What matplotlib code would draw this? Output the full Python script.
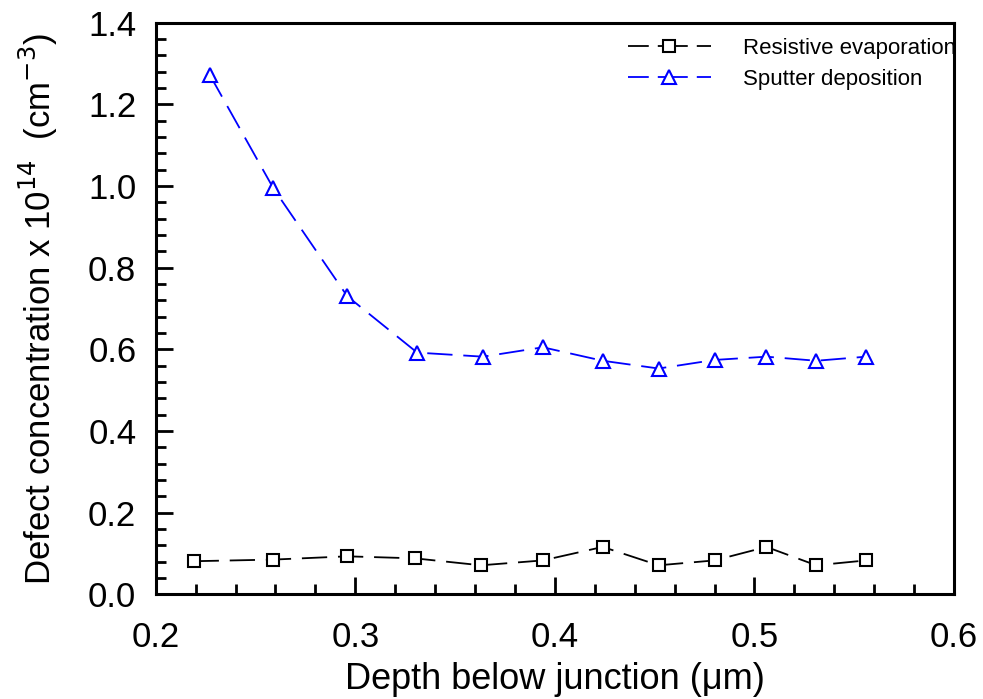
import matplotlib.pyplot as plt
from matplotlib.lines import Line2D
from matplotlib.ticker import MultipleLocator

plt.rcParams['font.family'] = ['Liberation Sans', 'DejaVu Sans']

# Resistive evaporation (squares)
depth_res = [0.219, 0.259, 0.296, 0.330, 0.363, 0.394, 0.424, 0.452, 0.480, 0.506, 0.531, 0.556]
conc_res = [0.081, 0.085, 0.093, 0.088, 0.071, 0.083, 0.116, 0.071, 0.083, 0.116, 0.071, 0.083]

# Sputter deposition (triangles)
depth_sput = [0.227, 0.259, 0.296, 0.331, 0.364, 0.394, 0.424, 0.452, 0.480, 0.506, 0.531, 0.556]
conc_sput = [1.273, 0.994, 0.730, 0.592, 0.582, 0.605, 0.572, 0.553, 0.574, 0.582, 0.572, 0.582]

fig = plt.figure(figsize=(9.83, 6.99), dpi=100)
ax = fig.add_axes([0.1584, 0.1498, 0.8121, 0.8177])

ax.plot(depth_res, conc_res, color='black', lw=1.3, dashes=(14, 6),
        marker='s', ms=9, mfc='white', mec='black', mew=1.5)
ax.plot(depth_sput, conc_sput, color='blue', lw=1.3, dashes=(14, 6),
        marker='^', ms=10, mfc='white', mec='blue', mew=1.5)

ax.set_xlim(0.2, 0.6)
ax.set_ylim(0.0, 1.4)
ax.xaxis.set_major_locator(MultipleLocator(0.1))
ax.xaxis.set_minor_locator(MultipleLocator(0.02))
ax.yaxis.set_major_locator(MultipleLocator(0.2))
ax.yaxis.set_minor_locator(MultipleLocator(0.04))
ax.xaxis.set_major_formatter(plt.FormatStrFormatter('%.1f'))
ax.yaxis.set_major_formatter(plt.FormatStrFormatter('%.1f'))

ax.tick_params(which='both', direction='in', width=2, labelsize=25, top=False, right=False)
ax.tick_params(which='major', length=12)
ax.tick_params(which='minor', length=7)
ax.tick_params(axis='x', which='major', pad=19)
ax.tick_params(axis='y', which='major', pad=14)
for s in ax.spines.values():
    s.set_linewidth(2.2)

ax.set_xlabel('Depth below junction (\u03bcm)', fontsize=26, labelpad=6)
ax.set_ylabel(r'Defect concentration x 10$^{14}$  (cm$^{-3}$)', fontsize=25, labelpad=20)

# legend handles: long dash, short dash through the marker, long dash
h_res = Line2D([], [], color='black', lw=1.3, dashes=(11.5, 5, 16.6, 5),
               marker='s', ms=9, mfc='white', mec='black', mew=1.5)
h_sput = Line2D([], [], color='blue', lw=1.3, dashes=(11.5, 5, 16.6, 5),
                marker='^', ms=10, mfc='white', mec='blue', mew=1.5)
leg = ax.legend([h_res, h_sput], ['Resistive evaporation', 'Sputter deposition'],
                loc='upper left', bbox_to_anchor=(0.566, 1.008), frameon=False,
                fontsize=16, handlelength=3.75, handletextpad=1.45, labelspacing=0.43,
                numpoints=1)
for t in leg.get_texts():
    t.set_clip_box(ax.bbox)
    t.set_clip_on(True)

fig.savefig('out.png', dpi=100)
